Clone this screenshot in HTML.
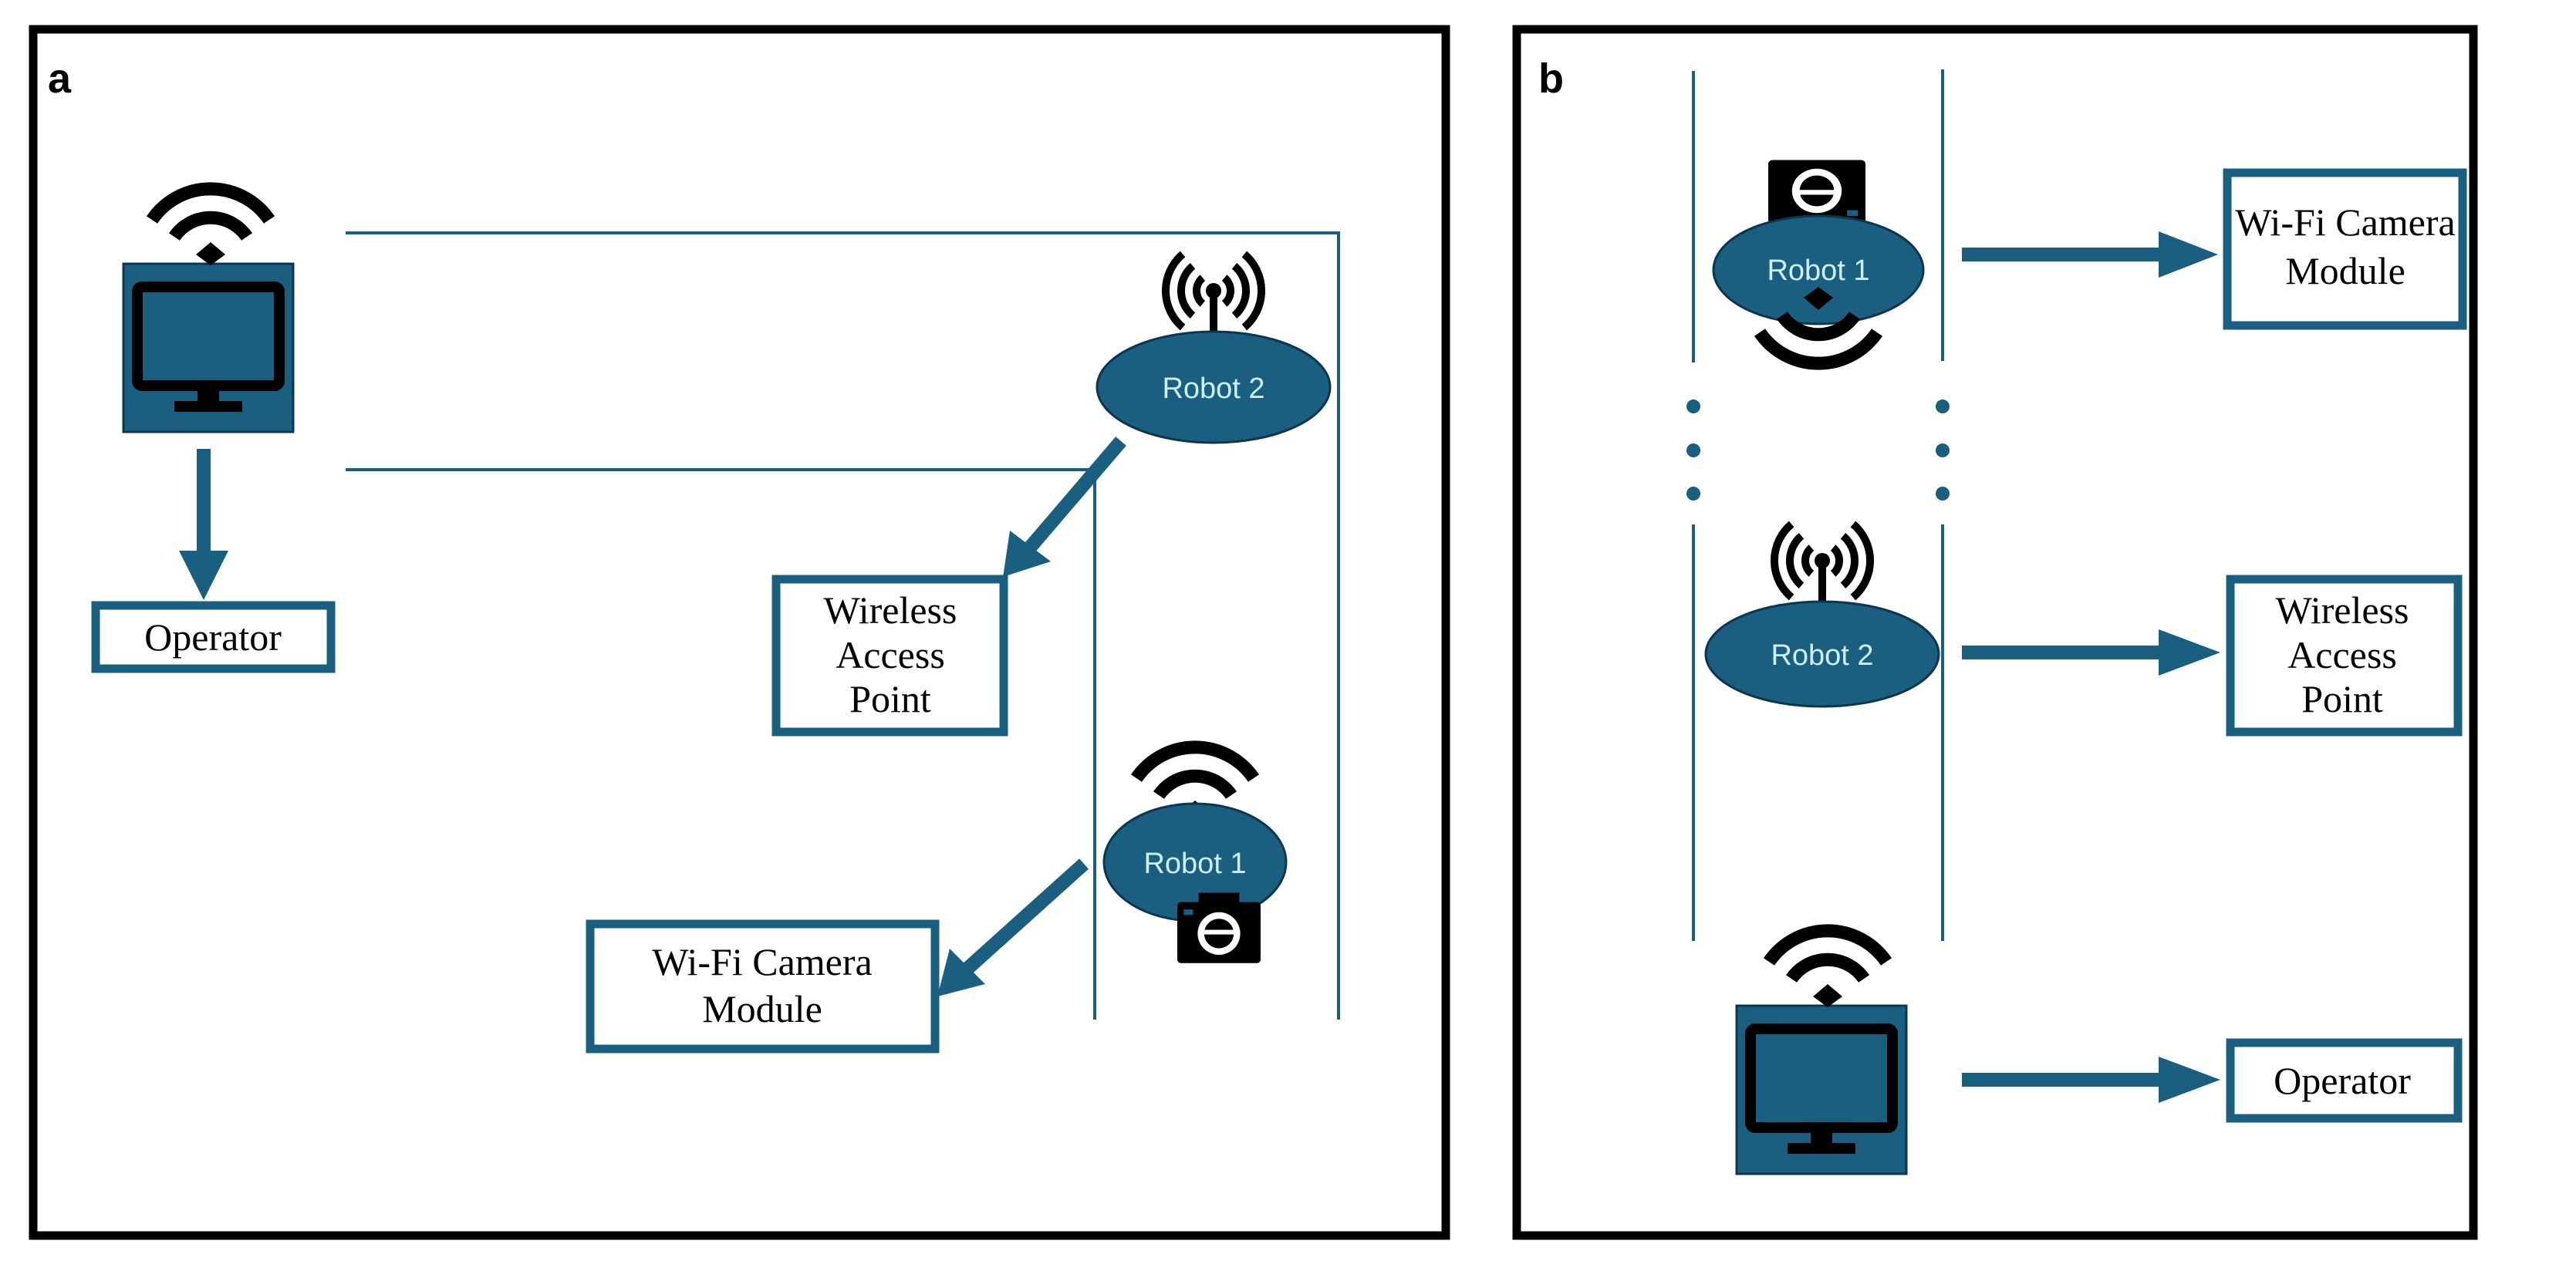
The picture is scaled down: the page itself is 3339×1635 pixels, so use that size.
<!DOCTYPE html>
<html><head><meta charset="utf-8"><style>
html,body{margin:0;padding:0;background:#fff;}
svg{display:block}
.lbl{font-family:"Liberation Serif",serif;font-size:50px;fill:#000;text-anchor:middle}
.rb{font-family:"Liberation Sans",sans-serif;font-size:38px;fill:#cdeff5;text-anchor:middle}
</style></head><body>
<svg width="3339" height="1635" viewBox="0 0 3339 1635" xmlns="http://www.w3.org/2000/svg">
<defs>
<g id="wifi">
  <path d="M-76,-53 A92,92 0 0 1 76,-53" fill="none" stroke="#000" stroke-width="17"/>
  <path d="M-47,-31 A57,57 0 0 1 47,-31" fill="none" stroke="#000" stroke-width="17"/>
  <path d="M-19,-8 L0,-24 L19,-8 L0,6 Z" fill="#000"/>
</g>
<g id="ant">
  <path d="M-39.9,-102.5 A62,62 0 0 0 -39.9,-7.5" fill="none" stroke="#000" stroke-width="10"/>
  <path d="M39.9,-102.5 A62,62 0 0 1 39.9,-7.5" fill="none" stroke="#000" stroke-width="10"/>
  <path d="M-27,-87.2 A42,42 0 0 0 -27,-22.8" fill="none" stroke="#000" stroke-width="10"/>
  <path d="M27,-87.2 A42,42 0 0 1 27,-22.8" fill="none" stroke="#000" stroke-width="10"/>
  <path d="M-14.1,-71.9 A22,22 0 0 0 -14.1,-38.1" fill="none" stroke="#000" stroke-width="10"/>
  <path d="M14.1,-71.9 A22,22 0 0 1 14.1,-38.1" fill="none" stroke="#000" stroke-width="10"/>
  <circle cx="0" cy="-55" r="10" fill="#000"/>
  <rect x="-5" y="-55" width="10" height="57" fill="#000"/>
</g>
<g id="cam">
  <rect x="-45" y="-32" width="90" height="66" rx="4" fill="#000"/>
  <rect x="-22" y="-42" width="44" height="14" fill="#000"/>
  <circle cx="0" cy="2" r="23" fill="#fff"/>
  <circle cx="0" cy="2" r="16" fill="#000"/>
  <rect x="-16" y="-2" width="32" height="5" fill="#fff"/>
  <rect x="-38" y="-24" width="10" height="6" fill="#1a5e80"/>
</g>
<g id="mon">
  <rect x="0" y="0" width="220" height="218" fill="#1a5e80" stroke="#0c3550" stroke-width="3"/>
  <rect x="18" y="30" width="184" height="128" rx="6" fill="#1a5e80" stroke="#000" stroke-width="14"/>
  <rect x="96" y="158" width="28" height="24" fill="#000"/>
  <rect x="66" y="178" width="88" height="14" fill="#000"/>
</g>
</defs>

<!-- Panel a -->
<rect x="43" y="38" width="1831" height="1564" fill="none" stroke="#000" stroke-width="11"/>
<text x="62" y="120" font-family="Liberation Sans,sans-serif" font-weight="bold" font-size="54">a</text>

<use href="#mon" x="160" y="342"/>
<use href="#wifi" x="273" y="338"/>

<polyline points="448,302 1735,302 1735,1322" fill="none" stroke="#1a5e80" stroke-width="4"/>
<polyline points="448,609 1419,609 1419,1322" fill="none" stroke="#1a5e80" stroke-width="4"/>

<use href="#ant" x="1573" y="432"/>
<ellipse cx="1573" cy="502" rx="151" ry="72" fill="#1a5e80" stroke="#0c3550" stroke-width="3"/>
<text class="rb" x="1573" y="516">Robot 2</text>

<use href="#wifi" x="1549" y="1062"/>
<ellipse cx="1549" cy="1118" rx="118" ry="76" fill="#1a5e80" stroke="#0c3550" stroke-width="3"/>
<text class="rb" x="1549" y="1132">Robot 1</text>
<g transform="translate(1580,1208) scale(1.2)"><use href="#cam"/></g>

<line x1="264" y1="582" x2="264" y2="720" stroke="#1a5e80" stroke-width="18"/>
<polygon points="232,714 296,714 264,778" fill="#1a5e80"/>
<line x1="1453" y1="572" x2="1335" y2="710" stroke="#1a5e80" stroke-width="18"/>
<polygon points="1309,688 1362,728 1300,748" fill="#1a5e80"/>
<line x1="1405" y1="1120" x2="1255" y2="1255" stroke="#1a5e80" stroke-width="18"/>
<polygon points="1231,1230 1277,1276 1215,1292" fill="#1a5e80"/>

<rect x="124" y="785" width="305" height="82" fill="#fff" stroke="#1a5e80" stroke-width="11"/>
<text class="lbl" x="276" y="843">Operator</text>
<rect x="1006" y="751" width="295" height="198" fill="#fff" stroke="#1a5e80" stroke-width="11"/>
<text class="lbl" x="1154" y="808">Wireless</text>
<text class="lbl" x="1154" y="866">Access</text>
<text class="lbl" x="1154" y="923">Point</text>
<rect x="765" y="1198" width="447" height="162" fill="#fff" stroke="#1a5e80" stroke-width="11"/>
<text class="lbl" x="988" y="1264">Wi-Fi Camera</text>
<text class="lbl" x="988" y="1325">Module</text>

<!-- Panel b -->
<rect x="1966" y="38" width="1240" height="1564" fill="none" stroke="#000" stroke-width="11"/>
<text x="1994" y="120" font-family="Liberation Sans,sans-serif" font-weight="bold" font-size="54">b</text>

<line x1="2195" y1="92" x2="2195" y2="470" stroke="#1a5e80" stroke-width="4"/>
<line x1="2518" y1="90" x2="2518" y2="468" stroke="#1a5e80" stroke-width="4"/>
<line x1="2195" y1="680" x2="2195" y2="1220" stroke="#1a5e80" stroke-width="4"/>
<line x1="2518" y1="680" x2="2518" y2="1220" stroke="#1a5e80" stroke-width="4"/>
<g fill="#1a5e80">
<circle cx="2195" cy="527" r="9"/><circle cx="2195" cy="584" r="9"/><circle cx="2195" cy="640" r="9"/>
<circle cx="2518" cy="527" r="9"/><circle cx="2518" cy="584" r="9"/><circle cx="2518" cy="640" r="9"/>
</g>

<g transform="translate(2355,250) scale(1.4,1.25) rotate(180)"><use href="#cam"/></g>
<ellipse cx="2357" cy="350" rx="136" ry="70" fill="#1a5e80" stroke="#0c3550" stroke-width="3"/>
<text class="rb" x="2357" y="363">Robot 1</text>
<g transform="translate(2357,378) rotate(180)"><use href="#wifi"/></g>

<use href="#ant" x="2362" y="782"/>
<ellipse cx="2362" cy="848" rx="151" ry="68" fill="#1a5e80" stroke="#0c3550" stroke-width="3"/>
<text class="rb" x="2362" y="862">Robot 2</text>

<use href="#mon" x="2251" y="1304"/>
<use href="#wifi" x="2369" y="1300"/>

<g fill="#1a5e80">
<rect x="2543" y="321" width="260" height="18"/><polygon points="2798,300 2875,330 2798,360"/>
<rect x="2543" y="837" width="260" height="18"/><polygon points="2798,816 2878,846 2798,876"/>
<rect x="2543" y="1391" width="260" height="18"/><polygon points="2798,1370 2878,1400 2798,1430"/>
</g>

<rect x="2887" y="224" width="305" height="198" fill="#fff" stroke="#1a5e80" stroke-width="11"/>
<text class="lbl" x="3040" y="305">Wi-Fi Camera</text>
<text class="lbl" x="3040" y="368">Module</text>
<rect x="2891" y="751" width="295" height="198" fill="#fff" stroke="#1a5e80" stroke-width="11"/>
<text class="lbl" x="3036" y="808">Wireless</text>
<text class="lbl" x="3036" y="866">Access</text>
<text class="lbl" x="3036" y="923">Point</text>
<rect x="2891" y="1352" width="295" height="98" fill="#fff" stroke="#1a5e80" stroke-width="11"/>
<text class="lbl" x="3036" y="1418">Operator</text>
</svg>
</body></html>
